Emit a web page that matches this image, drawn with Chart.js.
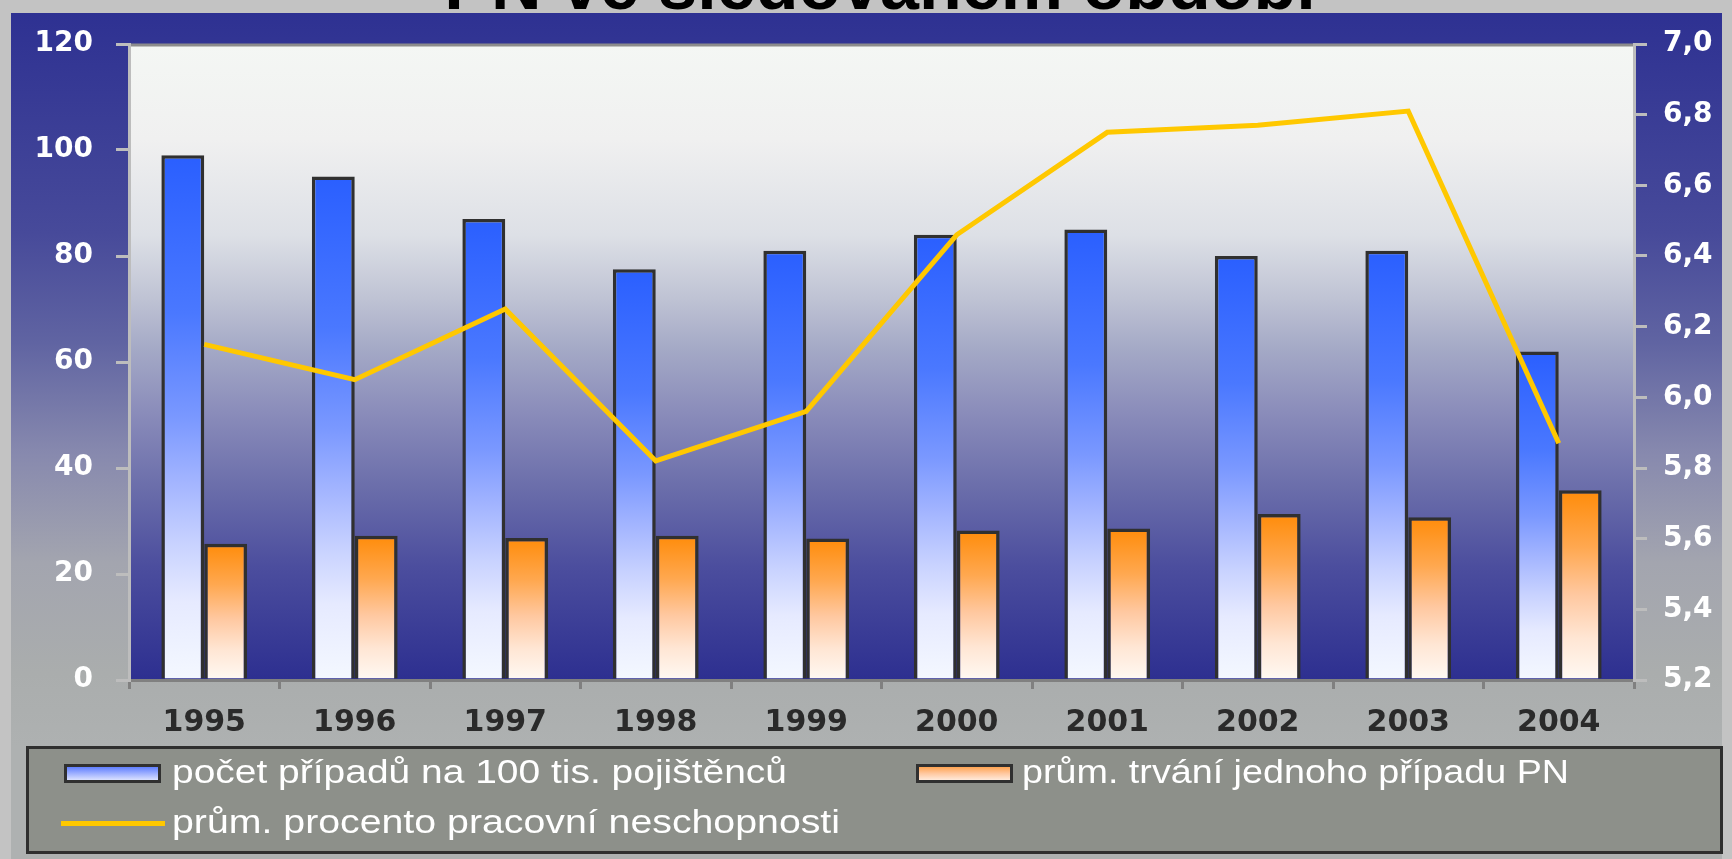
<!DOCTYPE html>
<html lang="cs">
<head>
<meta charset="utf-8">
<title>PN ve sledovaném období</title>
<script src="https://cdn.jsdelivr.net/npm/chart.js@4.4.1/dist/chart.umd.min.js"></script>
<style>
  html, body { margin: 0; padding: 0; overflow: hidden; background: #C3C3C3; }
  #wrap { position: relative; width: 1732px; height: 859px; }
</style>
</head>
<body>
<div id="wrap"><canvas id="pnChart"></canvas></div>
<script>
// data
var roky = ['1995', '1996', '1997', '1998', '1999', '2000', '2001', '2002', '2003', '2004'];
var pocetPripadu = [99, 95, 87, 77.5, 81, 84, 85, 80, 81, 62];
var trvaniPripadu = [25.7, 27.2, 26.8, 27.2, 26.7, 28.2, 28.6, 31.3, 30.7, 35.8];
var procentoPN = [6.15, 6.05, 6.25, 5.82, 5.96, 6.46, 6.75, 6.77, 6.81, 5.87];

var nadpis = 'PN ve sledovaném období';
var popisky = [
  'počet případů na 100 tis. pojištěnců',
  'prům. trvání jednoho případu PN',
  'prům. procento pracovní neschopnosti'
];

var modreStopy = [[0, '#2A5FFF'], [0.3, '#4A78FF'], [0.5, '#7A98FF'], [0.62, '#A2B4FF'],
  [0.74, '#C8D2FF'], [0.85, '#E6EAFF'], [1, '#F4F8FF']];
var oranzoveStopy = [[0, '#FF8C0A'], [0.3, '#FFA850'], [0.55, '#FFC8A0'], [0.78, '#FFE6D4'], [1, '#FFF9F3']];

function barGradient(stops) {
  return function (context) {
    var chart = context.chart;
    if (!chart.chartArea || context.raw === undefined) return stops[0][1];
    var top = chart.scales.y.getPixelForValue(context.raw);
    var base = chart.scales.y.getPixelForValue(0);
    var g = chart.ctx.createLinearGradient(0, top, 0, base);
    stops.forEach(function (s) { g.addColorStop(s[0], s[1]); });
    return g;
  };
}

// background frame, plot gradient, cut title, legend box
var pozadi = {
  id: 'pozadi',
  beforeDraw: function (chart) {
    var ctx = chart.ctx, a = chart.chartArea;
    ctx.save();
    ctx.fillStyle = '#C3C3C3';
    ctx.fillRect(0, 0, chart.width, chart.height);

    ctx.fillStyle = '#000';
    ctx.font = 'bold 70px "Liberation Sans", Arial, sans-serif';
    ctx.textAlign = 'center';
    ctx.textBaseline = 'alphabetic';
    ctx.fillText(nadpis, 880, 9);

    var g = ctx.createLinearGradient(0, 13, 0, 746);
    g.addColorStop(0, '#2E3192');
    g.addColorStop(0.3, '#474A9A');
    g.addColorStop(0.45, '#6064A2');
    g.addColorStop(0.6, '#8789AE');
    g.addColorStop(0.75, '#A3A5AF');
    g.addColorStop(0.9, '#AAADAD');
    g.addColorStop(1, '#AEB1B1');
    ctx.fillStyle = g;
    ctx.fillRect(11, 13, 1711, chart.height - 13);

    var p = ctx.createLinearGradient(0, a.top, 0, a.bottom);
    p.addColorStop(0, '#F4F7F4');
    p.addColorStop(0.15, '#F0F0F0');
    p.addColorStop(0.3, '#DDE0E6');
    p.addColorStop(0.4, '#BFC3D4');
    p.addColorStop(0.48, '#A4A9C6');
    p.addColorStop(0.58, '#8A8CBA');
    p.addColorStop(0.7, '#6A6DAA');
    p.addColorStop(0.82, '#4C4E9E');
    p.addColorStop(1, '#2D2F90');
    ctx.fillStyle = p;
    ctx.fillRect(a.left, a.top, a.right - a.left, a.bottom - a.top);

    ctx.strokeStyle = '#8C8C8C';
    ctx.lineWidth = 3;
    ctx.beginPath();
    ctx.moveTo(a.left, a.top + 1);
    ctx.lineTo(a.right, a.top + 1);
    ctx.stroke();
    ctx.restore();
  },
  afterDraw: function (chart) {
    var ctx = chart.ctx;
    var ds = chart.data.datasets;
    ctx.save();
    ctx.fillStyle = '#8D908A';
    ctx.fillRect(26, 746, 1697, 108);
    ctx.strokeStyle = '#2F2F2F';
    ctx.lineWidth = 3;
    ctx.strokeRect(27.5, 747.5, 1694, 105);

    function box(x, stops) {
      var g = ctx.createLinearGradient(0, 765, 0, 782);
      stops.forEach(function (s) { g.addColorStop(s[0], s[1]); });
      ctx.fillStyle = g;
      ctx.fillRect(x, 764, 97, 19);
      ctx.strokeStyle = '#303030';
      ctx.lineWidth = 3;
      ctx.strokeRect(x + 1.5, 765.5, 94, 16);
    }
    box(64, [[0, '#4D70FF'], [0.5, '#9EB0FF'], [1, '#ECF0FF']]);
    box(916, [[0, '#FF9A3A'], [0.5, '#FFC8A0'], [1, '#FFF4EC']]);

    ctx.strokeStyle = ds[2].borderColor;
    ctx.lineWidth = 5;
    ctx.beginPath();
    ctx.moveTo(61, 823.5);
    ctx.lineTo(165, 823.5);
    ctx.stroke();

    ctx.fillStyle = '#FFFFFF';
    ctx.font = '33px "Liberation Sans", Arial, sans-serif';
    ctx.textAlign = 'left';
    ctx.textBaseline = 'alphabetic';
    function text(t, x, y, w) {
      var m = ctx.measureText(t).width;
      ctx.save();
      ctx.translate(x, y);
      ctx.scale(w / m, 1);
      ctx.fillText(t, 0, 0);
      ctx.restore();
    }
    text(ds[0].label, 172, 783, 615);
    text(ds[1].label, 1022, 783, 547);
    text(ds[2].label, 172, 833, 668);
    ctx.restore();
  }
};

var tickFont = { family: '"DejaVu Sans", sans-serif', size: 28, weight: 'bold' };

var ctx = document.getElementById('pnChart').getContext('2d');
var pnChart = new Chart(ctx, {
  type: 'bar',
  data: {
    labels: roky,
    datasets: [{
      label: popisky[0],
      data: pocetPripadu,
      yAxisID: 'y',
      backgroundColor: barGradient(modreStopy),
      borderColor: '#303030',
      borderWidth: 3.5,
      categoryPercentage: 0.57,
      barPercentage: 1,
      order: 1
    }, {
      label: popisky[1],
      data: trvaniPripadu,
      yAxisID: 'y',
      backgroundColor: barGradient(oranzoveStopy),
      borderColor: '#303030',
      borderWidth: 3.5,
      categoryPercentage: 0.57,
      barPercentage: 1,
      order: 1
    }, {
      type: 'line',
      label: popisky[2],
      data: procentoPN,
      yAxisID: 'y1',
      borderColor: '#FFC800',
      backgroundColor: '#FFC800',
      borderWidth: 5,
      pointRadius: 0,
      tension: 0,
      fill: false,
      order: 0
    }]
  },
  options: {
    responsive: true,
    maintainAspectRatio: false,
    animation: false,
    layout: { padding: { top: 44, left: 0, right: 0, bottom: 0 } },
    plugins: {
      legend: { display: false },
      tooltip: { enabled: false }
    },
    scales: {
      x: {
        grid: { offset: true, drawOnChartArea: false, color: '#808080', lineWidth: 3, tickLength: 9 },
        border: { color: '#808080', width: 3 },
        ticks: { color: '#2A2A2A', font: { family: '"DejaVu Sans", sans-serif', size: 30, weight: 'bold' },
          padding: 16, maxRotation: 0, autoSkip: false },
        afterFit: function (s) { s.height = 179; }
      },
      y: {
        position: 'left',
        min: 0,
        max: 120,
        ticks: { stepSize: 20, color: '#FFFFFF', font: tickFont, padding: 23 },
        grid: { drawOnChartArea: false, color: '#BDBDBD', lineWidth: 3, tickLength: 13 },
        border: { color: '#BDBDBD', width: 3 },
        afterFit: function (s) { s.width = 129; }
      },
      y1: {
        position: 'right',
        min: 5.2,
        max: 7.0,
        ticks: {
          stepSize: 0.2, color: '#FFFFFF', font: tickFont, padding: 16,
          callback: function (v) { return Number(v).toFixed(1).replace('.', ','); }
        },
        grid: { drawOnChartArea: false, color: '#BDBDBD', lineWidth: 3, tickLength: 13 },
        border: { color: '#BDBDBD', width: 3 },
        afterFit: function (s) { s.width = 98; }
      }
    }
  },
  plugins: [pozadi]
});
</script>
</body>
</html>
